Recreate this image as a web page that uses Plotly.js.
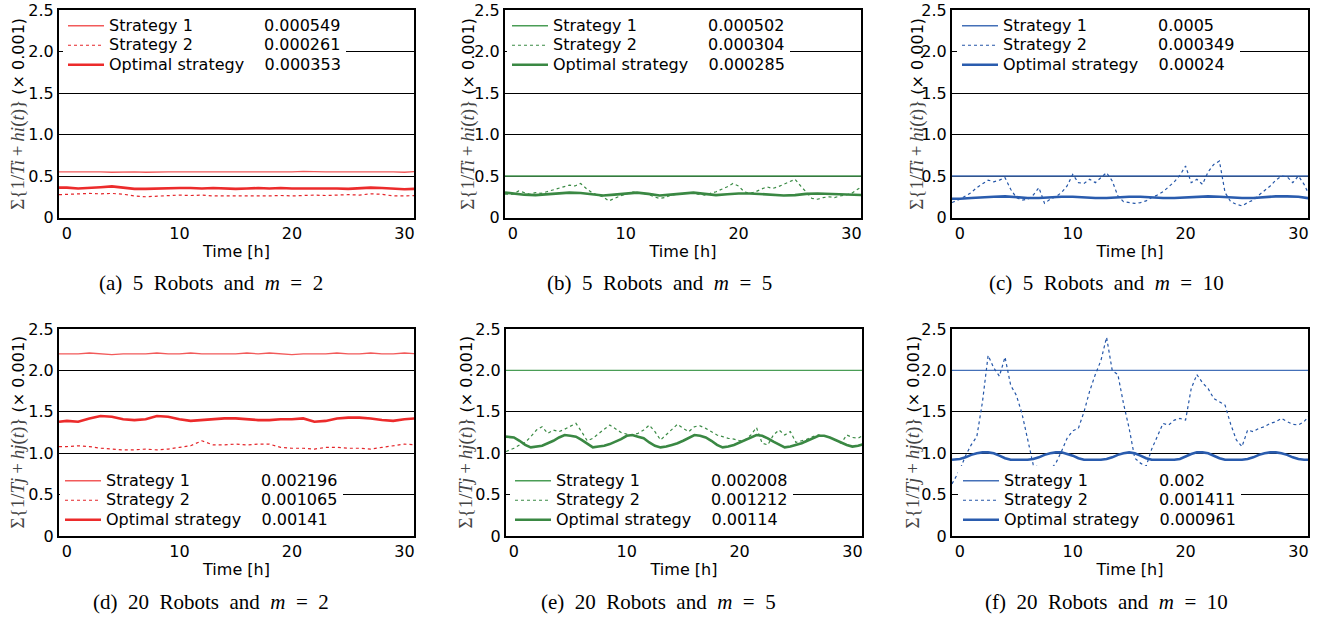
<!DOCTYPE html>
<html><head><meta charset="utf-8">
<script src="https://cdn.plot.ly/plotly-3.0.1.min.js"></script>
<style>html,body{margin:0;padding:0;background:#fff}#chart{width:1323px;height:618px}</style>
</head><body><div id="chart"></div>
<script>
// ---------- time grids [h] ----------
const hours = [-0.7,0,1,2,3,4,5,6,7,8,9,10,11,12,13,14,15,16,17,18,19,20,21,22,23,24,25,26,27,28,29,30,31];
const halfHours = [-0.7,0,0.5,1,1.5,2,2.5,3,3.5,4,4.5,5,5.5,6,6.5,7,7.5,8,8.5,9,9.5,10,10.5,11,11.5,12,12.5,13,13.5,14,14.5,15,15.5,16,16.5,17,17.5,18,18.5,19,19.5,20,20.5,21,21.5,22,22.5,23,23.5,24,24.5,25,25.5,26,26.5,27,27.5,28,28.5,29,29.5,30,30.5,31];

// ---------- (a) 5 robots, m = 2 (hourly) ----------
const aStrategy1 = [0.55,0.55,0.55,0.555,0.55,0.545,0.55,0.55,0.545,0.55,0.55,0.55,0.55,0.55,0.55,0.545,0.55,0.55,0.55,0.55,0.55,0.55,0.555,0.55,0.55,0.55,0.55,0.55,0.555,0.55,0.55,0.545,0.555];
const aStrategy2 = [0.275,0.28,0.285,0.29,0.285,0.29,0.28,0.26,0.25,0.255,0.26,0.27,0.265,0.27,0.26,0.26,0.255,0.255,0.26,0.26,0.265,0.26,0.265,0.27,0.265,0.27,0.275,0.27,0.285,0.28,0.26,0.26,0.265];
const aOptimal = [0.36,0.36,0.35,0.355,0.365,0.375,0.36,0.345,0.345,0.35,0.35,0.355,0.355,0.35,0.355,0.35,0.345,0.35,0.355,0.35,0.355,0.35,0.35,0.355,0.35,0.35,0.345,0.355,0.36,0.355,0.35,0.34,0.345];

// ---------- (b) 5 robots, m = 5 ----------
const bStrategy1 = [0.5,0.5,0.5,0.5,0.5,0.5,0.5,0.5,0.5,0.5,0.5,0.5,0.5,0.5,0.5,0.5,0.5,0.5,0.5,0.5,0.5,0.5,0.5,0.5,0.5,0.5,0.5,0.5,0.5,0.5,0.5,0.5,0.5];
const bStrategy2 = [0.28,0.28,0.32,0.30,0.28,0.30,0.29,0.31,0.33,0.35,0.37,0.39,0.38,0.41,0.35,0.30,0.27,0.25,0.20,0.23,0.26,0.28,0.31,0.30,0.29,0.28,0.25,0.23,0.24,0.27,0.28,0.29,0.30,0.29,0.28,0.27,0.29,0.31,0.34,0.37,0.41,0.38,0.31,0.29,0.31,0.34,0.37,0.35,0.37,0.40,0.43,0.46,0.38,0.30,0.23,0.22,0.24,0.25,0.24,0.26,0.27,0.29,0.33,0.38];
const bOptimal = [0.30,0.29,0.275,0.27,0.28,0.295,0.30,0.295,0.28,0.265,0.275,0.29,0.30,0.285,0.265,0.275,0.29,0.30,0.285,0.27,0.28,0.29,0.29,0.28,0.27,0.265,0.27,0.285,0.29,0.285,0.275,0.27,0.27];

// ---------- (c) 5 robots, m = 10 ----------
const cStrategy1 = [0.5,0.5,0.5,0.5,0.5,0.5,0.5,0.5,0.5,0.5,0.5,0.5,0.5,0.5,0.5,0.5,0.5,0.5,0.5,0.5,0.5,0.5,0.5,0.5,0.5,0.5,0.5,0.5,0.5,0.5,0.5,0.5,0.5];
const cStrategy2 = [0.18,0.22,0.26,0.30,0.36,0.40,0.45,0.43,0.45,0.48,0.34,0.24,0.21,0.22,0.27,0.36,0.17,0.22,0.25,0.30,0.38,0.52,0.42,0.41,0.46,0.42,0.48,0.54,0.44,0.26,0.19,0.18,0.17,0.18,0.20,0.24,0.27,0.31,0.37,0.43,0.51,0.62,0.42,0.46,0.40,0.55,0.64,0.68,0.30,0.19,0.16,0.14,0.18,0.21,0.27,0.32,0.38,0.45,0.50,0.49,0.42,0.50,0.40,0.26];
const cOptimal = [0.225,0.225,0.235,0.245,0.25,0.255,0.245,0.235,0.235,0.245,0.25,0.25,0.24,0.235,0.235,0.245,0.25,0.25,0.24,0.235,0.235,0.24,0.25,0.255,0.25,0.24,0.235,0.235,0.245,0.255,0.255,0.25,0.23];

// ---------- (d) 20 robots, m = 2 ----------
const dStrategy1 = [2.2,2.2,2.2,2.21,2.2,2.19,2.2,2.2,2.2,2.21,2.2,2.2,2.21,2.2,2.2,2.2,2.2,2.21,2.2,2.21,2.2,2.19,2.2,2.2,2.2,2.21,2.2,2.2,2.21,2.2,2.2,2.21,2.2];
const dStrategy2 = [1.08,1.08,1.09,1.08,1.06,1.05,1.04,1.04,1.05,1.04,1.05,1.07,1.09,1.15,1.10,1.10,1.11,1.10,1.11,1.11,1.07,1.06,1.06,1.05,1.07,1.07,1.06,1.06,1.05,1.07,1.09,1.11,1.10];
const dOptimal = [1.38,1.39,1.38,1.42,1.45,1.44,1.41,1.40,1.41,1.45,1.44,1.41,1.39,1.40,1.41,1.42,1.42,1.41,1.40,1.40,1.41,1.41,1.42,1.38,1.39,1.42,1.43,1.43,1.42,1.40,1.39,1.41,1.42];

// ---------- (e) 20 robots, m = 5 ----------
const eStrategy1 = [2.0,2.0,2.0,2.0,2.0,2.0,2.0,2.0,2.0,2.0,2.0,2.0,2.0,2.0,2.0,2.0,2.0,2.0,2.0,2.0,2.0,2.0,2.0,2.0,2.0,2.0,2.0,2.0,2.0,2.0,2.0,2.0,2.0];
const eStrategy2 = [1.02,1.06,1.10,1.13,1.20,1.28,1.32,1.24,1.28,1.26,1.29,1.33,1.36,1.26,1.15,1.18,1.24,1.29,1.34,1.29,1.25,1.23,1.22,1.24,1.28,1.34,1.26,1.16,1.22,1.29,1.35,1.30,1.26,1.32,1.33,1.30,1.26,1.22,1.20,1.18,1.17,1.15,1.16,1.22,1.31,1.12,1.10,1.22,1.28,1.22,1.26,1.13,1.15,1.17,1.20,1.22,1.21,1.19,1.16,1.12,1.22,1.19,1.18,1.22];
const eOptimal = [1.20,1.19,1.15,1.10,1.07,1.08,1.09,1.12,1.15,1.19,1.22,1.21,1.20,1.16,1.11,1.07,1.08,1.09,1.11,1.14,1.17,1.21,1.22,1.20,1.18,1.13,1.09,1.07,1.08,1.10,1.12,1.15,1.19,1.22,1.21,1.19,1.15,1.10,1.07,1.08,1.10,1.13,1.16,1.19,1.22,1.21,1.18,1.14,1.10,1.07,1.08,1.10,1.12,1.15,1.18,1.21,1.21,1.19,1.16,1.13,1.10,1.08,1.09,1.11];

// ---------- (f) 20 robots, m = 10 ----------
const fStrategy1 = [2.0,2.0,2.0,2.0,2.0,2.0,2.0,2.0,2.0,2.0,2.0,2.0,2.0,2.0,2.0,2.0,2.0,2.0,2.0,2.0,2.0,2.0,2.0,2.0,2.0,2.0,2.0,2.0,2.0,2.0,2.0,2.0,2.0];
const fStrategy2 = [0.63,0.80,0.97,1.10,1.20,1.62,2.18,2.03,1.93,2.16,1.82,1.70,1.48,1.18,0.86,0.83,0.82,0.80,0.88,1.02,1.18,1.27,1.30,1.50,1.75,1.95,2.12,2.40,2.00,1.95,1.60,1.30,0.94,0.88,0.84,1.05,1.20,1.36,1.34,1.40,1.42,1.40,1.78,1.95,1.85,1.78,1.66,1.62,1.58,1.35,1.16,1.08,1.28,1.26,1.30,1.32,1.36,1.38,1.42,1.38,1.35,1.34,1.38,1.46];
const fOptimal = [0.92,0.93,0.95,0.98,1.00,1.01,1.01,1.00,0.97,0.94,0.92,0.92,0.92,0.92,0.93,0.95,0.98,1.00,1.01,1.01,0.99,0.97,0.94,0.92,0.92,0.92,0.92,0.93,0.95,0.98,1.00,1.01,1.00,0.97,0.94,0.92,0.92,0.92,0.92,0.92,0.93,0.96,0.99,1.01,1.01,1.00,0.97,0.94,0.92,0.92,0.92,0.92,0.93,0.95,0.98,1.00,1.01,1.01,1.00,0.98,0.95,0.93,0.92,0.92];

// ---------- legend labels / averages ----------
const seriesNames = ['Strategy 1', 'Strategy 2', 'Optimal strategy'];
const averages = {
  a: ['0.000549', '0.000261', '0.000353'],
  b: ['0.000502', '0.000304', '0.000285'],
  c: ['0.0005', '0.000349', '0.00024'],
  d: ['0.002196', '0.001065', '0.00141'],
  e: ['0.002008', '0.001212', '0.00114'],
  f: ['0.002', '0.001411', '0.000961']
};
const captions = {
  a: ['(a)', '5', 2], b: ['(b)', '5', 5], c: ['(c)', '5', 10],
  d: ['(d)', '20', 2], e: ['(e)', '20', 5], f: ['(f)', '20', 10]
};
const yTickVals = [0, 0.5, 1, 1.5, 2, 2.5];
const yTickText = ['0', '0.5', '1.0', '1.5', '2.0', '2.5'];
const xTickVals = [0, 10, 20, 30];

// ---------- figure geometry ----------
const W = 1323, H = 618;
const panels = [
  {key:'a', s:[aStrategy1, aStrategy2, aOptimal], t:[hours, hours, hours], col:0, row:0, x0:59, x1:414, lx:63, tx:18},
  {key:'b', s:[bStrategy1, bStrategy2, bOptimal], t:[hours, halfHours, hours], col:1, row:0, x0:505, x1:861, lx:507, tx:468},
  {key:'c', s:[cStrategy1, cStrategy2, cOptimal], t:[hours, halfHours, hours], col:2, row:0, x0:952, x1:1308, lx:957, tx:917},
  {key:'d', s:[dStrategy1, dStrategy2, dOptimal], t:[hours, hours, hours], col:0, row:1, x0:59, x1:414, lx:60, tx:17},
  {key:'e', s:[eStrategy1, eStrategy2, eOptimal], t:[hours, halfHours, halfHours], col:1, row:1, x0:506, x1:862, lx:510, tx:465},
  {key:'f', s:[fStrategy1, fStrategy2, fOptimal], t:[hours, halfHours, halfHours], col:2, row:1, x0:952, x1:1308, lx:958, tx:912}
];
const rowsPx = [[10, 217.5], [329, 536]];
const captionPx = [[211, 283, 659, 283, 1106, 283], [211, 602, 658, 602, 1106, 602]];
const palette = [
  {s1:'#f25a5a', s2:'#e5262a', opt:'#ec2b2b'},
  {s1:'#4a9d56', s2:'#3b8b45', opt:'#3a8843'},
  {s1:'#4470b8', s2:'#2456a8', opt:'#2a5cae'}
];
const styles = [
  (c) => ({color:c.s1, width:1.3, dash:'solid'}),
  (c) => ({color:c.s2, width:1.2, dash:'dot'}),
  (c) => ({color:c.opt, width:2.6, dash:'solid'})
];
const pads = [14, 14, 4];
const NB = '\u00A0';
const GAP = NB + NB;

const traces = [];
const layout = {
  width: W, height: H,
  margin: {l:0, r:0, t:0, b:0},
  paper_bgcolor: '#fff', plot_bgcolor: '#fff',
  showlegend: true,
  font: {family: 'DejaVu Sans', size: 16, color: '#000'},
  annotations: []
};

panels.forEach((p, i) => {
  const n = i === 0 ? '' : String(i + 1);
  const xa = 'x' + n, ya = 'y' + n;
  const legId = 'legend' + n;
  const pal = palette[p.col];
  const [top, bot] = rowsPx[p.row];

  for (let k = 0; k < 3; k++) {
    traces.push({
      type: 'scatter', mode: 'lines',
      x: p.t[k], y: p.s[k],
      xaxis: xa, yaxis: ya, legend: legId,
      name: '<span style="font-size:16px">' + seriesNames[k] + NB.repeat(pads[k]) + averages[p.key][k] + '</span>',
      line: Object.assign(styles[k](pal), {shape:'linear'}),
      hoverinfo: 'skip'
    });
  }

  layout['xaxis' + n] = {
    domain: [p.x0 / W, p.x1 / W], anchor: ya,
    range: [-0.7, 30.85], tickvals: xTickVals, ticks: '',
    showgrid: false, zeroline: false,
    showline: true, mirror: true, linecolor: '#000', linewidth: 2,
    tickfont: {family:'DejaVu Sans', size:16, color:'#000'},
    title: {text: 'Time [h]', font: {family:'DejaVu Sans', size:16, color:'#000'}, standoff: 4}
  };
  layout['yaxis' + n] = {
    domain: [(H - bot) / H, (H - top) / H], anchor: xa,
    range: [0, 2.5], tickvals: yTickVals, ticktext: yTickText, ticks: '',
    showgrid: true, gridcolor: '#000', gridwidth: 1, zeroline: false,
    showline: true, mirror: true, linecolor: '#000', linewidth: 2,
    tickfont: {family:'DejaVu Sans', size:16, color:'#000'}
  };

  const leg = {
    x: p.lx / W, xanchor: 'left',
    bgcolor: '#fff', borderwidth: 0,
    font: {family:'DejaVu Sans', size:12.7, color:'#000'},
    itemwidth: 36, tracegroupgap: 0, traceorder: 'normal'
  };
  if (p.row === 0) { leg.y = (H - 11) / H; leg.yanchor = 'top'; }
  else { leg.y = (H - 535) / H; leg.yanchor = 'bottom'; }
  layout[legId] = leg;

  // y-axis title
  const sub = p.row === 0 ? 'i' : 'j';
  layout.annotations.push({
    xref: 'paper', yref: 'paper',
    x: p.tx / W, y: (H - (top + bot) / 2) / H,
    xanchor: 'center', yanchor: 'middle', textangle: -90, showarrow: false,
    text: '<span style="font-family:Liberation Serif;font-size:19px;fill:#444">\u03A3{1/<i>T' + sub + '</i>\u2009+\u2009<i>h' + sub + '</i>(<i>t</i>)}</span> (\u00D7 0.001)',
    font: {family:'DejaVu Sans', size:16, color:'#000'}
  });

  // caption
  const cp = captions[p.key];
  const cx = captionPx[p.row][p.col * 2], cy = captionPx[p.row][p.col * 2 + 1];
  layout.annotations.push({
    xref: 'paper', yref: 'paper', x: cx / W, y: (H - cy) / H,
    xanchor: 'center', yanchor: 'middle', showarrow: false,
    text: cp[0] + GAP + cp[1] + GAP + 'Robots' + GAP + 'and' + GAP + '<i>m</i>' + GAP + '=' + GAP + cp[2],
    font: {family:'Liberation Serif', size:21, color:'#000'}
  });
});

Plotly.newPlot('chart', traces, layout, {displayModeBar: false, staticPlot: true});
</script>
</body></html>
